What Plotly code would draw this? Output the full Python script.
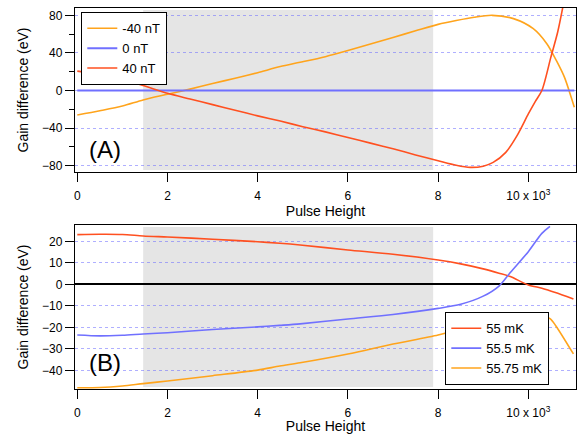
import plotly.graph_objects as go

# ---------------- data (x in units of 10^3) ----------------
x_top_lin = [0, 0.5, 1, 1.46, 2, 2.5, 3, 3.5, 4, 4.5, 4.94, 5.5, 6, 6.5, 7, 7.5, 8, 8.4, 8.8, 9.2,
             9.67, 10.11, 10.41, 10.62, 10.8, 10.95, 11.02]
neg40_nT = [-26, -21.5, -16.5, -10, -4, 1.5, 7.5, 13, 19, 25.5, 30, 36, 42.5, 49.5, 56.5, 63.5, 70.4,
            74.5, 78, 80, 76.5, 65.8, 49.8, 32, 14.2, -7.1, -17.8]

x_zero = [0, 11.02]
zero_nT = [0, 0]

x_pos40 = [0, 0.5, 1, 1.46, 2, 2.5, 3, 3.5, 4, 4.5, 5, 5.5, 6, 6.5, 7, 7.5, 8, 8.4, 8.71,
           9.0, 9.22, 9.5, 9.75, 10.0, 10.15, 10.3, 10.5, 10.65, 10.77]
pos40_nT = [20.6, 17, 11.5, 5.3, -3, -9, -15, -21, -27, -32.5, -38.5, -44, -50, -56, -62, -68.5,
            -74.7, -79.5, -81.8, -80.5, -76.5, -65.8, -48, -24.9, -12, 0, 35.5, 62, 90]

x_b = [0, 0.5, 1, 1.46, 2, 3, 4, 4.49, 4.94, 6, 7, 8, 8.5, 9, 9.35, 9.6, 10.0, 10.3, 10.48,
       10.6, 11.0]
mk55 = [23.1, 23.3, 23.2, 22.5, 22, 21, 19.8, 19.1, 18.3, 16, 14, 11.3, 9.5, 7.2, 5.2, 3.6, -0.3,
        -1.8, -3, -3.8, -6.8]
mk55_5 = [-23.6, -24, -23.7, -23.1, -22.5, -21, -19.8, -19.1, -18.4, -16.1, -14, -11.2, -9.3, -5.5,
          -0.8, 5.5, 15.2, 23.7, 27, None, None]
mk55_75 = [-48.1, -48, -47.3, -46.2, -45, -42.5, -39.9, -38, -36.5, -32.4, -27.8, -23.6, -20.7,
           -17.7, -15.6, -14.5, -14, -14.4, -16, -19, -32.4]

shade_range = [1.46, 7.89]
xticks = [0, 2, 4, 6, 8, 10]
xticktext = ["0", "2", "4", "6", "8", "10 x 10<sup>3</sup>"]
top_yticks = [-80, -40, 0, 40, 80]
bot_yticks = [-40, -30, -20, -10, 0, 10, 20]

# ---------------- style ----------------
RED = "#ff5020"
BLUE = "#7070ff"
ORANGE = "#ffa41c"
FONT = "Liberation Sans, Arial, Helvetica, sans-serif"
W, H = 579, 434

fig = go.Figure()

fig.add_trace(go.Scatter(x=x_top_lin, y=neg40_nT, mode="lines", name="-40 nT",
                         line=dict(color=ORANGE, width=1.6, shape="spline", smoothing=0.8),
                         xaxis="x", yaxis="y", legend="legend"))
fig.add_trace(go.Scatter(x=x_zero, y=zero_nT, mode="lines", name="0 nT",
                         line=dict(color=BLUE, width=2), xaxis="x", yaxis="y", legend="legend"))
fig.add_trace(go.Scatter(x=x_pos40, y=pos40_nT, mode="lines", name="40 nT",
                         line=dict(color=RED, width=1.6, shape="spline", smoothing=0.8),
                         xaxis="x", yaxis="y", legend="legend"))

fig.add_trace(go.Scatter(x=x_b, y=mk55, mode="lines", name="55 mK",
                         line=dict(color=RED, width=1.6, shape="spline", smoothing=0.8),
                         xaxis="x2", yaxis="y2", legend="legend2"))
fig.add_trace(go.Scatter(x=x_b, y=mk55_5, mode="lines", name="55.5 mK",
                         line=dict(color=BLUE, width=1.6, shape="spline", smoothing=0.8),
                         xaxis="x2", yaxis="y2", legend="legend2"))
fig.add_trace(go.Scatter(x=x_b, y=mk55_75, mode="lines", name="55.75 mK",
                         line=dict(color=ORANGE, width=1.6, shape="spline", smoothing=0.8),
                         xaxis="x2", yaxis="y2", legend="legend2"))

xdom = [75 / W, 576 / W]
ydom_top = [1 - 172 / H, 1 - 8 / H]
ydom_bot = [1 - 389 / H, 1 - 225 / H]
xrange = [-0.051, 11.057]

common_x = dict(range=xrange, domain=xdom, showline=True, linecolor="black", linewidth=1.3,
                mirror=True, ticks="outside", ticklen=9, tickwidth=1.3, tickcolor="black",
                tickvals=xticks, ticktext=xticktext, showgrid=False, zeroline=False,
                automargin=False, ticklabelstandoff=3,
                tickfont=dict(family=FONT, size=12, color="black"),
                title=dict(text="Pulse Height", font=dict(family=FONT, size=14, color="black"),
                           standoff=1))
common_y = dict(showline=True, linecolor="black", linewidth=1.3, mirror=True,
                ticks="outside", ticklen=9, tickwidth=1.3, tickcolor="black",
                showgrid=True, gridcolor="rgba(110,110,255,0.55)", griddash="dot", gridwidth=1,
                automargin=False,
                tickfont=dict(family=FONT, size=12, color="black"),
                title=dict(text="Gain difference (eV)",
                           font=dict(family=FONT, size=14, color="black"), standoff=10))

fig.update_layout(
    width=W, height=H, margin=dict(l=0, r=0, t=0, b=0),
    paper_bgcolor="white", plot_bgcolor="white",
    font=dict(family=FONT, size=12, color="black"),
    xaxis=dict(**common_x, anchor="y"),
    yaxis=dict(**common_y, domain=ydom_top, range=[-86.7, 87.8], anchor="x",
               tickvals=top_yticks, zeroline=False,
               minor=dict(ticks="outside", ticklen=5, tickwidth=1.3, tickcolor="black",
                          dtick=20, tick0=0, showgrid=False)),
    xaxis2=dict(**common_x, anchor="y2"),
    yaxis2=dict(**common_y, domain=ydom_bot, range=[-48.7, 27.6], anchor="x2",
                tickvals=bot_yticks, zeroline=True, zerolinecolor="black", zerolinewidth=1.5),
    legend=dict(x=81 / W, y=1 - 12 / H, xanchor="left", yanchor="top",
                bgcolor="white", bordercolor="black", borderwidth=1.3,
                font=dict(family=FONT, size=13, color="black"),
                tracegroupgap=0, itemwidth=30),
    legend2=dict(x=549 / W, y=1 - 385 / H, xanchor="right", yanchor="bottom",
                 bgcolor="white", bordercolor="black", borderwidth=1.3,
                 font=dict(family=FONT, size=13, color="black"),
                 tracegroupgap=0, itemwidth=30),
    showlegend=True,
)

for xr, yr in (("x", "y domain"), ("x2", "y2 domain")):
    fig.add_shape(type="rect", xref=xr, yref=yr, x0=shade_range[0], x1=shade_range[1],
                  y0=0.012, y1=0.988, fillcolor="#e5e5e5", line=dict(width=0), layer="below")

fig.add_annotation(text="(A)", xref="paper", yref="paper", x=87 / W, y=1 - 150 / H,
                   xanchor="left", yanchor="middle", showarrow=False,
                   font=dict(family=FONT, size=24, color="black"))
fig.add_annotation(text="(B)", xref="paper", yref="paper", x=87 / W, y=1 - 362 / H,
                   xanchor="left", yanchor="middle", showarrow=False,
                   font=dict(family=FONT, size=24, color="black"))

fig.write_html("out.html", config={"displayModeBar": False},
               post_script="document.body.style.margin='0px';document.body.style.padding='0px';")
